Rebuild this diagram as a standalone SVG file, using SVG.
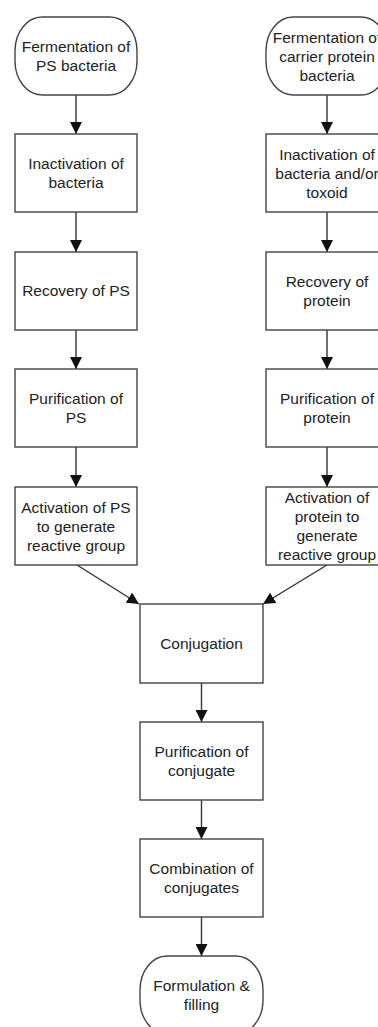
<svg xmlns="http://www.w3.org/2000/svg" width="378" height="1027" viewBox="0 0 378 1027">
<style>
.n{fill:#fff;stroke:#444;stroke-width:1.4}
.t{font-family:"Liberation Sans",Arial,sans-serif;font-size:15.5px;fill:#222;text-anchor:middle}
.c{fill:none;stroke:#333;stroke-width:1.4}
</style>
<defs>
<marker id="ah" markerUnits="userSpaceOnUse" markerWidth="12" markerHeight="12" viewBox="0 0 12 12" refX="12" refY="6" orient="auto">
<path d="M0,0 L12,6 L0,12 z" fill="#111"/>
</marker>
</defs>
<rect width="378" height="1027" fill="#fff"/>
<g id="connectors">
<line class="c" x1="76" y1="95" x2="76" y2="134" marker-end="url(#ah)"/>
<line class="c" x1="76" y1="212" x2="76" y2="252" marker-end="url(#ah)"/>
<line class="c" x1="76" y1="330" x2="76" y2="369" marker-end="url(#ah)"/>
<line class="c" x1="76" y1="447" x2="76" y2="487" marker-end="url(#ah)"/>
<line class="c" x1="327" y1="95" x2="327" y2="134" marker-end="url(#ah)"/>
<line class="c" x1="327" y1="212" x2="327" y2="252" marker-end="url(#ah)"/>
<line class="c" x1="327" y1="330" x2="327" y2="369" marker-end="url(#ah)"/>
<line class="c" x1="327" y1="447" x2="327" y2="487" marker-end="url(#ah)"/>
<line class="c" x1="77" y1="565" x2="139" y2="604" marker-end="url(#ah)"/>
<line class="c" x1="327" y1="565" x2="263" y2="604" marker-end="url(#ah)"/>
<line class="c" x1="201.5" y1="683" x2="201.5" y2="722" marker-end="url(#ah)"/>
<line class="c" x1="201.5" y1="800" x2="201.5" y2="839" marker-end="url(#ah)"/>
<line class="c" x1="201.5" y1="917" x2="201.5" y2="956" marker-end="url(#ah)"/>
</g>
<g id="n1"><rect class="n" x="15" y="17" width="122" height="78" rx="27" ry="34"/>
<text class="t" x="76" y="52">Fermentation of</text><text class="t" x="76" y="71">PS bacteria</text></g>
<g id="n2"><rect class="n" x="15" y="134" width="122" height="78"/>
<text class="t" x="76" y="169">Inactivation of</text><text class="t" x="76" y="188">bacteria</text></g>
<g id="n3"><rect class="n" x="15" y="252" width="122" height="78"/>
<text class="t" x="76" y="296">Recovery of PS</text></g>
<g id="n4"><rect class="n" x="15" y="369" width="122" height="78"/>
<text class="t" x="76" y="404">Purification of</text><text class="t" x="76" y="423">PS</text></g>
<g id="n5"><rect class="n" x="15" y="487" width="122" height="78"/>
<text class="t" x="76" y="512.5">Activation of PS</text><text class="t" x="76" y="531.5">to generate</text><text class="t" x="76" y="550.5">reactive group</text></g>
<g id="m1"><rect class="n" x="266" y="17" width="122" height="78" rx="27" ry="34"/>
<text class="t" x="327" y="42.5">Fermentation of</text><text class="t" x="327" y="61.5">carrier protein</text><text class="t" x="327" y="80.5">bacteria</text></g>
<g id="m2"><rect class="n" x="266" y="134" width="122" height="78"/>
<text class="t" x="327" y="159.5">Inactivation of</text><text class="t" x="327" y="178.5">bacteria and/or</text><text class="t" x="327" y="197.5">toxoid</text></g>
<g id="m3"><rect class="n" x="266" y="252" width="122" height="78"/>
<text class="t" x="327" y="286.5">Recovery of</text><text class="t" x="327" y="305.5">protein</text></g>
<g id="m4"><rect class="n" x="266" y="369" width="122" height="78"/>
<text class="t" x="327" y="404">Purification of</text><text class="t" x="327" y="423">protein</text></g>
<g id="m5"><rect class="n" x="266" y="487" width="122" height="78"/>
<text class="t" x="327" y="503">Activation of</text><text class="t" x="327" y="522">protein to</text><text class="t" x="327" y="541">generate</text><text class="t" x="327" y="560">reactive group</text></g>
<g id="conj"><rect class="n" x="140" y="604" width="123" height="79"/>
<text class="t" x="201.5" y="649">Conjugation</text></g>
<g id="pconj"><rect class="n" x="140" y="722" width="123" height="78"/>
<text class="t" x="201.5" y="757">Purification of</text><text class="t" x="201.5" y="776">conjugate</text></g>
<g id="comb"><rect class="n" x="140" y="839" width="123" height="78"/>
<text class="t" x="201.5" y="874">Combination of</text><text class="t" x="201.5" y="893">conjugates</text></g>
<g id="form"><rect class="n" x="140" y="956" width="123" height="78" rx="27" ry="34"/>
<text class="t" x="201.5" y="991">Formulation &amp;</text><text class="t" x="201.5" y="1010">filling</text></g>
</svg>
